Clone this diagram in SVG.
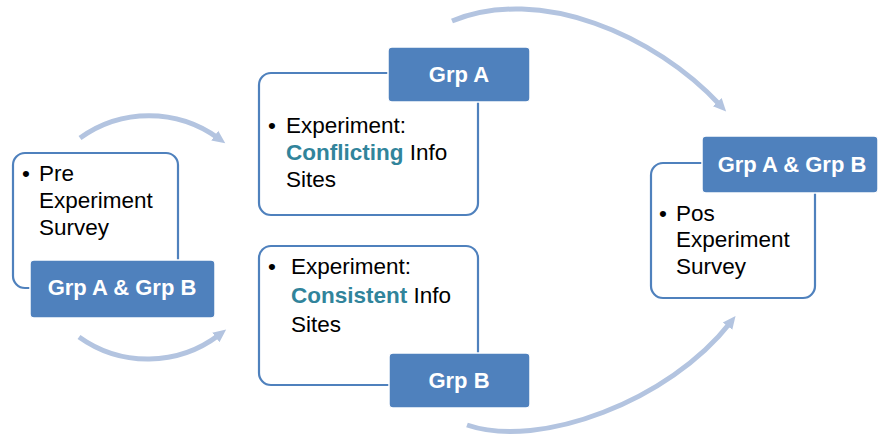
<svg xmlns="http://www.w3.org/2000/svg" width="880" height="436" viewBox="0 0 880 436">
<style>
.card{fill:#fff;stroke:#4F81BD;stroke-width:2.2}
.tag{fill:#4F81BD;stroke:#fff;stroke-width:1.5}
.lbl{font-family:"Liberation Sans",Arial,sans-serif;font-size:22px;font-weight:bold;fill:#fff;text-anchor:middle}
.body{font-family:"Liberation Sans",Arial,sans-serif;font-size:22.5px;fill:#000}
.hl{fill:#31849B;font-weight:bold}
.arc{fill:none;stroke:#B3C4E0;stroke-width:5;stroke-linecap:butt}
</style>
<defs>
<marker id="ah" markerUnits="userSpaceOnUse" markerWidth="16" markerHeight="16" refX="4" refY="8" orient="auto">
<path d="M0,2 L13,8 L0,14 Z" fill="#B3C4E0"/>
</marker>
</defs>
<g id="connectors">
<path class="arc" d="M80,138 A118,118 0 0 1 218,138" marker-end="url(#ah)"/>
<path class="arc" d="M79,337 A118,118 0 0 0 219,335" marker-end="url(#ah)"/>
<path class="arc" d="M452,21 C540,-15 655,35 720,105" marker-end="url(#ah)"/>
<path class="arc" d="M467,425 C540,450 670,400 730,323" marker-end="url(#ah)"/>
</g>
<g id="pre">
<rect class="card" x="13" y="153" width="165" height="135" rx="12"/>
<text class="body" x="22" y="181">•</text>
<text class="body" x="39" y="181">Pre</text>
<text class="body" x="39" y="208">Experiment</text>
<text class="body" x="39" y="235">Survey</text>
<rect class="tag" x="30" y="260" width="185" height="58" rx="4"/>
<text class="lbl" x="122" y="295">Grp A &amp; Grp B</text>
</g>
<g id="grpA">
<rect class="card" x="259" y="73" width="219" height="142" rx="12"/>
<text class="body" x="268" y="133">•</text>
<text class="body" x="286" y="133">Experiment:</text>
<text class="body" x="286" y="160"><tspan class="hl">Conflicting</tspan> Info</text>
<text class="body" x="286" y="187">Sites</text>
<rect class="tag" x="388" y="47" width="142" height="55" rx="4"/>
<text class="lbl" x="459" y="82">Grp A</text>
</g>
<g id="grpB">
<rect class="card" x="259" y="246" width="219" height="139" rx="12"/>
<text class="body" x="268" y="274">•</text>
<text class="body" x="291" y="274">Experiment:</text>
<text class="body" x="291" y="303"><tspan class="hl">Consistent</tspan> Info</text>
<text class="body" x="291" y="332">Sites</text>
<rect class="tag" x="389" y="353" width="141" height="55" rx="4"/>
<text class="lbl" x="459" y="388">Grp B</text>
</g>
<g id="post">
<rect class="card" x="651" y="163" width="164" height="135" rx="12"/>
<text class="body" x="659" y="221">•</text>
<text class="body" x="676" y="221">Pos</text>
<text class="body" x="676" y="247">Experiment</text>
<text class="body" x="676" y="274">Survey</text>
<rect class="tag" x="702" y="136" width="176" height="57" rx="4"/>
<text class="lbl" x="792" y="172">Grp A &amp; Grp B</text>
</g>
</svg>
